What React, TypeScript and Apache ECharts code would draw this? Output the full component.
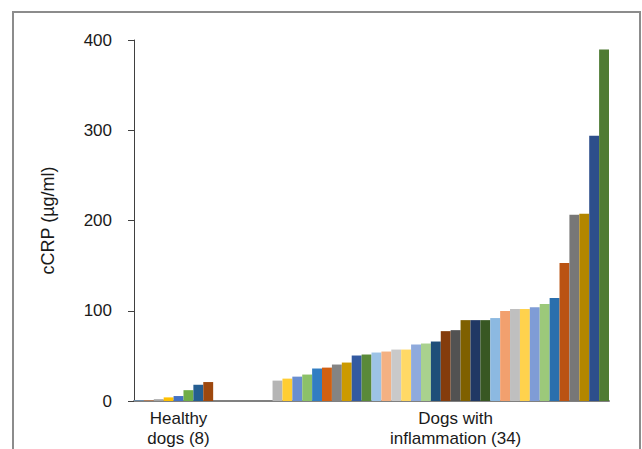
import React, { useEffect, useRef } from "react";
import * as echarts from "echarts";

const groupLabels = ["Healthy\ndogs (8)", "Dogs with\ninflammation (34)"];
const healthyValues = [0.5, 0.5, 2, 4, 5.5, 12, 18, 21];
const inflammationValues = [
  22.6, 24.8, 27, 29.3, 36, 37, 40.4, 42.6, 50.4, 51.5, 53.7, 54.8, 57, 57,
  62.6, 63.7, 65.9, 77.4, 78.5, 89.6, 89.6, 89.6, 91.9, 99.6, 101.9, 101.9,
  104, 107.4, 114, 153, 206.3, 207.4, 294, 389.6,
];
const gapSlots = 6;
const yTicks = [0, 100, 200, 300, 400];
const yAxisTitle = "cCRP (µg/ml)";

const palette = [
  "#5B9BD5", "#ED7D31", "#A5A5A5", "#FFC000", "#4472C4", "#70AD47",
  "#255E91", "#9E480E", "#636363", "#997300", "#264478", "#43682B",
  "#7CAFDD", "#F1975A", "#B5B5B5", "#FFCD33", "#698ED0", "#8CC168",
  "#327DC2", "#D26012", "#848484", "#CC9A00", "#335AA1", "#5A8A39",
  "#9DC3E6", "#F4B183", "#C9C9C9", "#FFD966", "#8FAADC", "#A9D18E",
  "#1F4E79", "#843C0C", "#525252", "#7F6000", "#203864", "#385723",
  "#8CB9E1", "#F2A06E", "#BFBFBF", "#FFD24D", "#7F9CD6", "#9CC97A",
  "#2A6FAD", "#BA5312", "#777777", "#B38600", "#2D4E8B", "#4F7B33",
];

export default function App() {
  const ref = useRef<HTMLDivElement>(null);
  useEffect(() => {
    if (!ref.current) return;
    const chart = echarts.init(ref.current, undefined, { renderer: "svg" });

    const values: (number | null)[] = [
      ...healthyValues,
      ...Array(gapSlots).fill(null),
      ...inflammationValues,
    ];
    const categories = values.map((_, i) => "c" + i);
    const healthyLabelIdx = 4;
    const inflLabelIdx = healthyValues.length + gapSlots + 18;

    chart.setOption({
      animation: false,
      backgroundColor: "#ffffff",
      grid: { left: 134, right: 33, top: 40, bottom: 48 },
      graphic: [
        {
          type: "rect",
          shape: { x: 13, y: 12, width: 627, height: 470 },
          style: { fill: "none", stroke: "#8c8c8c", lineWidth: 2 },
          silent: true,
        },
      ],
      xAxis: {
        type: "category",
        data: categories,
        boundaryGap: true,
        axisLine: { lineStyle: { color: "#808080", width: 2 } },
        axisTick: { show: false },
        axisLabel: {
          interval: 0,
          margin: 7,
          color: "#1a1a1a",
          fontFamily: "Liberation Sans, Arial, sans-serif",
          fontSize: 17,
          lineHeight: 20,
          formatter: (_: string, idx: number) =>
            idx === healthyLabelIdx
              ? groupLabels[0]
              : idx === inflLabelIdx
              ? groupLabels[1]
              : "",
        },
      },
      yAxis: {
        type: "value",
        min: yTicks[0],
        max: yTicks[yTicks.length - 1],
        interval: 100,
        name: yAxisTitle,
        nameLocation: "middle",
        nameGap: 77,
        nameTextStyle: {
          color: "#1a1a1a",
          fontFamily: "Liberation Sans, Arial, sans-serif",
          fontSize: 18,
        },
        axisLine: { show: true, lineStyle: { color: "#404040", width: 1 } },
        axisTick: { show: true, inside: false, length: 6, lineStyle: { color: "#404040" } },
        splitLine: { show: false },
        axisLabel: {
          margin: 22,
          color: "#1a1a1a",
          fontFamily: "Liberation Sans, Arial, sans-serif",
          fontSize: 17,
        },
      },
      series: [
        {
          type: "bar",
          barCategoryGap: "0%",
          data: values.map((v, i) => ({
            value: v,
            itemStyle: { color: palette[i % palette.length] },
          })),
        },
      ],
    });
    return () => chart.dispose();
  }, []);
  return (
    <div
      ref={ref}
      style={{ position: "fixed", left: 0, top: 0, width: 642, height: 449 }}
    />
  );
}
